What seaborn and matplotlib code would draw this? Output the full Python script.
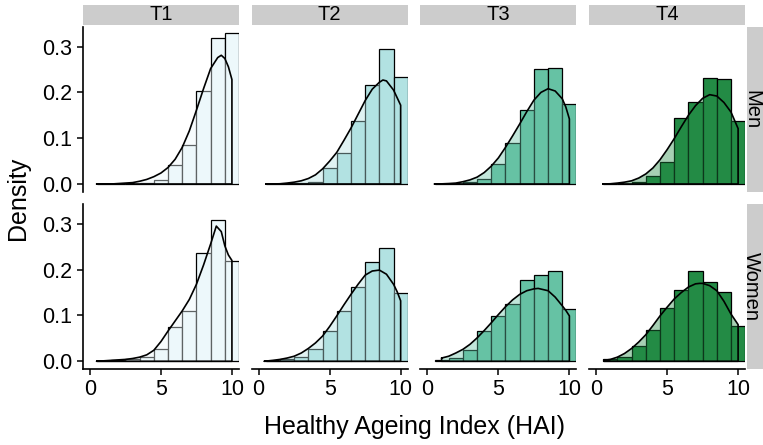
import numpy as np
import pandas as pd
import matplotlib
matplotlib.use("Agg")
import matplotlib.pyplot as plt
from matplotlib.patches import Rectangle
import seaborn as sns

sns.set_style("white")
plt.rcParams['font.family'] = ['Liberation Sans', 'DejaVu Sans']
plt.rcParams['text.color'] = 'black'

# ---------------- data ----------------
tertiles = ["T1", "T2", "T3", "T4"]
sexes = ["Men", "Women"]
colors = ["#EDF8FB", "#B2E2E2", "#66C2A4", "#238B45"]
bin_centers = [1, 2, 3, 4, 5, 6, 7, 8, 9, 10]

hist_T1_men   = [0.000, 0.000, 0.001, 0.002, 0.009, 0.042, 0.086, 0.204, 0.319, 0.329]
hist_T1_women = [0.001, 0.002, 0.004, 0.009, 0.027, 0.075, 0.110, 0.237, 0.309, 0.219]
hist_T2_men   = [0.000, 0.000, 0.0015, 0.004, 0.036, 0.067, 0.137, 0.216, 0.294, 0.234]
hist_T2_women = [0.001, 0.004, 0.010, 0.027, 0.067, 0.110, 0.163, 0.216, 0.247, 0.150]
hist_T3_men   = [0.000, 0.001, 0.004, 0.012, 0.044, 0.090, 0.162, 0.251, 0.253, 0.175]
hist_T3_women = [0.002, 0.007, 0.024, 0.067, 0.099, 0.124, 0.177, 0.188, 0.197, 0.113]
hist_T4_men   = [0.000, 0.001, 0.005, 0.018, 0.049, 0.143, 0.179, 0.232, 0.229, 0.137]
hist_T4_women = [0.006, 0.009, 0.034, 0.069, 0.116, 0.156, 0.197, 0.172, 0.152, 0.077]

# density curves (x, density)
dens_x_T1_men   = [0.47, 1, 1.5, 2, 2.5, 3, 3.5, 4, 4.5, 5, 5.5, 6, 6.5, 7, 7.5, 8, 8.5, 9, 9.25, 9.5, 9.75, 10]
dens_y_T1_men   = [0, 0, 0, 0.001, 0.002, 0.003, 0.006, 0.010, 0.016, 0.024, 0.036, 0.054, 0.080, 0.116,
                   0.161, 0.208, 0.252, 0.276, 0.281, 0.274, 0.256, 0.228]
dens_x_T1_women = [0.47, 1, 1.5, 2, 2.5, 3, 3.5, 4, 4.5, 5, 5.5, 6, 6.5, 7, 7.5, 8, 8.5, 8.9, 9.25, 9.5, 9.75, 10]
dens_y_T1_women = [0, 0.001, 0.002, 0.003, 0.004, 0.006, 0.009, 0.014, 0.024, 0.043, 0.066, 0.088, 0.110, 0.135,
                   0.168, 0.210, 0.256, 0.295, 0.283, 0.252, 0.232, 0.220]
dens_x_T2_men   = [0.5, 1, 1.5, 2, 2.5, 3, 3.5, 4, 4.5, 5, 5.5, 6, 6.5, 7, 7.5, 8, 8.5, 8.75, 9, 9.5, 10]
dens_y_T2_men   = [0, 0, 0.0005, 0.002, 0.004, 0.007, 0.012, 0.020, 0.033, 0.050, 0.069, 0.095, 0.122, 0.152,
                   0.182, 0.207, 0.222, 0.227, 0.225, 0.205, 0.172]
dens_x_T2_women = [0.4, 1, 1.5, 2, 2.5, 3, 3.5, 4, 4.5, 5, 5.5, 6, 6.5, 7, 7.5, 8, 8.5, 9, 9.5, 9.75, 10]
dens_y_T2_women = [0, 0.002, 0.004, 0.007, 0.011, 0.018, 0.028, 0.040, 0.055, 0.076, 0.099, 0.123, 0.146, 0.168,
                   0.188, 0.197, 0.199, 0.190, 0.168, 0.152, 0.132]
dens_x_T3_men   = [0.5, 1, 1.5, 2, 2.5, 3, 3.5, 4, 4.5, 5, 5.5, 6, 6.5, 7, 7.5, 8, 8.5, 9, 9.5, 9.75, 10]
dens_y_T3_men   = [0, 0.0003, 0.001, 0.002, 0.005, 0.009, 0.015, 0.025, 0.039, 0.057, 0.080, 0.105, 0.131, 0.158,
                   0.183, 0.200, 0.208, 0.203, 0.186, 0.168, 0.142]
dens_x_T3_women = [1.0, 1.5, 2, 2.5, 3, 3.5, 4, 4.5, 5, 5.5, 6, 6.5, 7, 7.5, 7.8, 8.5, 9, 9.5, 9.75, 10]
dens_y_T3_women = [0.007, 0.011, 0.018, 0.026, 0.037, 0.051, 0.067, 0.084, 0.102, 0.119, 0.134, 0.146, 0.154,
                   0.158, 0.159, 0.154, 0.140, 0.121, 0.111, 0.099]
dens_x_T4_men   = [0.47, 1, 1.5, 2, 2.5, 3, 3.5, 4, 4.5, 5, 5.5, 6, 6.5, 7, 7.5, 8, 8.5, 9, 9.5, 10]
dens_y_T4_men   = [0, 0.0005, 0.002, 0.004, 0.007, 0.013, 0.022, 0.035, 0.053, 0.075, 0.099, 0.125, 0.150, 0.171,
                   0.187, 0.195, 0.192, 0.178, 0.157, 0.121]
dens_x_T4_women = [0.55, 1, 1.5, 2, 2.5, 3, 3.5, 4, 4.5, 5, 5.5, 6, 6.5, 7, 7.3, 7.5, 8, 8.5, 9, 9.5, 10]
dens_y_T4_women = [0.002, 0.004, 0.009, 0.017, 0.028, 0.042, 0.058, 0.078, 0.099, 0.118, 0.136, 0.150, 0.162,
                   0.169, 0.170, 0.170, 0.165, 0.154, 0.131, 0.103, 0.080]

hists = {
    ("T1", "Men"): hist_T1_men, ("T1", "Women"): hist_T1_women,
    ("T2", "Men"): hist_T2_men, ("T2", "Women"): hist_T2_women,
    ("T3", "Men"): hist_T3_men, ("T3", "Women"): hist_T3_women,
    ("T4", "Men"): hist_T4_men, ("T4", "Women"): hist_T4_women,
}
dens = {
    ("T1", "Men"): (dens_x_T1_men, dens_y_T1_men), ("T1", "Women"): (dens_x_T1_women, dens_y_T1_women),
    ("T2", "Men"): (dens_x_T2_men, dens_y_T2_men), ("T2", "Women"): (dens_x_T2_women, dens_y_T2_women),
    ("T3", "Men"): (dens_x_T3_men, dens_y_T3_men), ("T3", "Women"): (dens_x_T3_women, dens_y_T3_women),
    ("T4", "Men"): (dens_x_T4_men, dens_y_T4_men), ("T4", "Women"): (dens_x_T4_women, dens_y_T4_women),
}

# ---------------- figure ----------------
W, H = 763, 445
fig = plt.figure(figsize=(W / 100, H / 100), dpi=100)
axes = fig.subplots(2, 4)
fig.subplots_adjust(left=83 / W, right=745.2 / W, top=1 - 26.5 / H, bottom=1 - 369 / H,
                    wspace=12.7 / 156, hspace=12 / 165)

tick_fs = 15.5
strip_fs = 14.5
title_fs = 18

for r, sex in enumerate(sexes):
    for c, t in enumerate(tertiles):
        ax = axes[r, c]
        col = colors[c]
        df = pd.DataFrame({"x": bin_centers, "h": hists[(t, sex)]})
        sns.barplot(data=df, x="x", y="h", native_scale=True, width=1.0, color=col,
                    saturation=1.0, edgecolor="black", linewidth=0.9, errorbar=None, ax=ax)
        dx, dy = dens[(t, sex)]
        px = list(dx) + [dx[-1], dx[0]]
        py = list(dy) + [0.0, 0.0]
        ax.fill(px, py, facecolor=col, alpha=0.4, edgecolor="none", zorder=3)
        ax.plot(px + [px[0]], py + [py[0]], color="black", lw=1.2, zorder=4,
                solid_joinstyle="round")
        ax.set_xlim(-0.49, 10.5)
        ax.set_ylim(-0.0169, 0.3438)
        ax.set_xlabel("")
        ax.set_ylabel("")
        for s in ["top", "right"]:
            ax.spines[s].set_visible(False)
        ax.spines["left"].set_visible(c == 0)
        ax.spines["bottom"].set_visible(r == 1)
        for s in ["left", "bottom"]:
            ax.spines[s].set_color("black")
            ax.spines[s].set_linewidth(1.2)
        ax.set_xticks([0, 5, 10])
        ax.set_xticklabels(["0", "5", "10"])
        ax.set_yticks([0.0, 0.1, 0.2, 0.3])
        ax.set_yticklabels(["0.0", "0.1", "0.2", "0.3"])
        ax.tick_params(axis="both", which="both", direction="out", length=4.5, width=1.1,
                       color="black", labelsize=tick_fs, labelcolor="black", pad=3)
        ax.tick_params(axis="x", bottom=(r == 1), labelbottom=(r == 1))
        ax.tick_params(axis="y", left=(c == 0), labelleft=(c == 0))
        ax.grid(False)
        ax.set_facecolor("white")
        if r == 0:
            ax.add_patch(Rectangle((0, 1 + 1 / 164.5), 1, 20.5 / 164.5, transform=ax.transAxes,
                                   facecolor="#CCCCCC", edgecolor="none", clip_on=False))
            ax.text(0.5, 1 + 11.5 / 164.5, t, transform=ax.transAxes, ha="center", va="center",
                    fontsize=strip_fs, color="black")
        if c == 3:
            ax.add_patch(Rectangle((1 + 1.8 / 156, 0), 17 / 156, 1, transform=ax.transAxes,
                                   facecolor="#CCCCCC", edgecolor="none", clip_on=False))
            ax.text(1 + 6.6 / 156, 0.5, sex, transform=ax.transAxes, ha="center", va="center",
                    rotation=-90, fontsize=strip_fs, color="black")

fig.text(415 / W, 1 - 427 / H, "Healthy Ageing Index (HAI)", ha="center", va="center",
         fontsize=title_fs, color="black")
fig.text(18 / W, 1 - 198 / H, "Density", ha="center", va="center", rotation=90,
         fontsize=title_fs, color="black")

fig.savefig("out.png", dpi=100, facecolor="white")
